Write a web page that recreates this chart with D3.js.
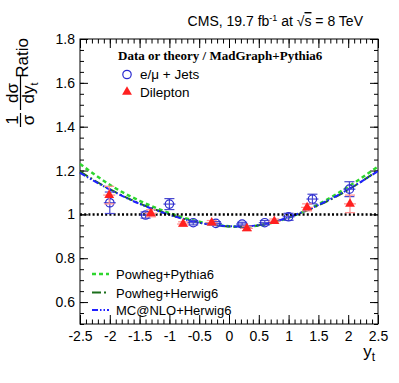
<!DOCTYPE html>
<html>
<head>
<meta charset="utf-8">
<script src="https://cdn.jsdelivr.net/npm/d3@7"></script>
<style>
body{margin:0;background:#fff;}
svg text{font-family:"Liberation Sans",Helvetica,Arial,sans-serif;}
</style>
</head>
<body>
<svg id="chart" width="399" height="383"></svg>
<script>
// e/mu + jets
var ljX = [-2.0, -1.4, -1.0, -0.6, -0.22, 0.22, 0.6, 1.0, 1.4, 2.02];
var ljY = [1.053, 0.997, 1.047, 0.962, 0.959, 0.956, 0.962, 0.989, 1.070, 1.115];
var ljErr = [0.049, 0.014, 0.025, 0.010, 0.008, 0.008, 0.010, 0.016, 0.022, 0.034];
// dilepton
var llX = [-2.01, -1.31, -0.77, -0.29, 0.30, 0.76, 1.31, 2.03];
var llY = [1.088, 1.005, 0.956, 0.962, 0.936, 0.969, 1.032, 1.048];
var llErr = [0.040, 0.016, 0.010, 0.010, 0.010, 0.010, 0.016, 0.040];
// theory / MadGraph+Pythia6
var thX = [-2.5, -2, -1.5, -1, -0.5, 0, 0.5, 1, 1.5, 2, 2.5];
var powPy = [1.230, 1.135, 1.062, 1.006, 0.966, 0.946, 0.949, 0.985, 1.046, 1.126, 1.218];
var powHw = [1.195, 1.115, 1.050, 1.000, 0.962, 0.945, 0.950, 0.986, 1.041, 1.112, 1.200];
var mcnlo = [1.190, 1.113, 1.048, 0.998, 0.962, 0.946, 0.951, 0.987, 1.043, 1.114, 1.197];
var xTicks = [-2.5, -2, -1.5, -1, -0.5, 0, 0.5, 1, 1.5, 2, 2.5];
var yTicks = [0.6, 0.8, 1, 1.2, 1.4, 1.6, 1.8];
var xTickLabels = ["-2.5", "-2", "-1.5", "-1", "-0.5", "0", "0.5", "1", "1.5", "2", "2.5"];
var yTickLabels = ["0.6", "0.8", "1", "1.2", "1.4", "1.6", "1.8"];

var svg = d3.select("#chart"),
    fLeft = 80, fRight = 378, fTop = 39, fBottom = 324;

var x = d3.scaleLinear().domain([-2.5, 2.5]).range([fLeft, fRight]);
var y = d3.scaleLinear().domain([0.5, 1.8]).range([fBottom, fTop]);

var xMinor = d3.range(-25, 26).map(function(i){ return i / 10; });
var yMinor = d3.range(10, 37).map(function(i){ return i / 20; });

function styleAxis(g){
    g.select(".domain").remove();
    g.selectAll("line").attr("stroke", "#000");
    g.selectAll("text").attr("font-size", 14).attr("fill", "#000");
}

// minor ticks
svg.append("g").attr("transform", "translate(0," + fBottom + ")")
    .call(d3.axisBottom(x).tickValues(xMinor).tickSize(-4.5).tickFormat("")).call(styleAxis);
svg.append("g").attr("transform", "translate(0," + fTop + ")")
    .call(d3.axisTop(x).tickValues(xMinor).tickSize(-4.5).tickFormat("")).call(styleAxis);
svg.append("g").attr("transform", "translate(" + fLeft + ",0)")
    .call(d3.axisLeft(y).tickValues(yMinor).tickSize(-4).tickFormat("")).call(styleAxis);
svg.append("g").attr("transform", "translate(" + fRight + ",0)")
    .call(d3.axisRight(y).tickValues(yMinor).tickSize(-4).tickFormat("")).call(styleAxis);

// major ticks
svg.append("g").attr("transform", "translate(0," + fBottom + ")")
    .call(d3.axisBottom(x).tickValues(xTicks).tickSize(-9).tickPadding(7)
        .tickFormat(function(d, i){ return xTickLabels[i]; })).call(styleAxis);
svg.append("g").attr("transform", "translate(0," + fTop + ")")
    .call(d3.axisTop(x).tickValues(xTicks).tickSize(-9).tickFormat("")).call(styleAxis);
svg.append("g").attr("transform", "translate(" + fLeft + ",0)")
    .call(d3.axisLeft(y).tickValues(yTicks).tickSize(-8).tickPadding(5)
        .tickFormat(function(d, i){ return yTickLabels[i]; })).call(styleAxis);
svg.append("g").attr("transform", "translate(" + fRight + ",0)")
    .call(d3.axisRight(y).tickValues(yTicks).tickSize(-8).tickFormat("")).call(styleAxis);

svg.append("rect").attr("x", fLeft).attr("y", fTop)
    .attr("width", fRight - fLeft).attr("height", fBottom - fTop)
    .attr("fill", "none").attr("stroke", "#000").attr("stroke-width", 1);

// theory curves
var line = d3.line()
    .x(function(d){ return x(d[0]); })
    .y(function(d){ return y(d[1]); })
    .curve(d3.curveNatural);

var curves = [
    {name: "Powheg+Pythia6", vals: powPy, color: "#2ed62e", dash: "4,3", w: 2.5},
    {name: "Powheg+Herwig6", vals: powHw, color: "#1b6e1b", dash: "9,3,2,3", w: 2},
    {name: "MC@NLO+Herwig6", vals: mcnlo, color: "#2020ff", dash: "6,2,1.5,2,1.5,2", w: 2}
];
curves.forEach(function(c){
    svg.append("path")
        .datum(thX.map(function(v, i){ return [v, c.vals[i]]; }))
        .attr("d", line)
        .attr("fill", "none")
        .attr("stroke", c.color)
        .attr("stroke-width", c.w)
        .attr("stroke-dasharray", c.dash);
});

// ratio = 1
svg.append("line")
    .attr("x1", x(-2.5)).attr("x2", x(2.5))
    .attr("y1", y(1)).attr("y2", y(1))
    .attr("stroke", "#000").attr("stroke-width", 2.5)
    .attr("stroke-dasharray", "2,2.2");

function errBars(xs, ys, es, color){
    var g = svg.append("g").attr("stroke", color).attr("stroke-width", 1.2).attr("fill", "none");
    xs.forEach(function(v, i){
        var px = x(v), py = y(ys[i]), lo = y(ys[i] - es[i]), hi = y(ys[i] + es[i]);
        g.append("line").attr("x1", px).attr("x2", px).attr("y1", lo).attr("y2", hi);
        g.append("line").attr("x1", px - 6).attr("x2", px + 6).attr("y1", py).attr("y2", py);
        g.append("line").attr("x1", px - 5).attr("x2", px + 5).attr("y1", lo).attr("y2", lo);
        g.append("line").attr("x1", px - 5).attr("x2", px + 5).attr("y1", hi).attr("y2", hi);
    });
}

errBars(ljX, ljY, ljErr, "#4848d0");
svg.append("g").selectAll("circle")
    .data(ljX)
    .enter().append("circle")
    .attr("cx", function(d){ return x(d); })
    .attr("cy", function(d, i){ return y(ljY[i]); })
    .attr("r", 4.2)
    .attr("fill", "none")
    .attr("stroke", "#2a2ad0").attr("stroke-width", 1.2);

errBars(llX, llY, llErr, "#ff8c8c");
var tri = d3.symbol().type(d3.symbolTriangle).size(42);
svg.append("g").selectAll("path")
    .data(llX)
    .enter().append("path")
    .attr("d", tri)
    .attr("transform", function(d, i){ return "translate(" + x(d) + "," + y(llY[i]) + ")"; })
    .attr("fill", "#ff2020");

// header
var head = svg.append("text").attr("x", 363).attr("y", 26)
    .attr("text-anchor", "end").attr("font-size", 14);
head.append("tspan").text("CMS, 19.7 fb");
head.append("tspan").attr("dy", -5).attr("font-size", 9).text("-1");
head.append("tspan").attr("dy", 5).text(" at ");
head.append("tspan").text("\u221A");
head.append("tspan").attr("text-decoration", "overline").text("s");
head.append("tspan").text(" = 8 TeV");

// top legend
svg.append("text").attr("x", 118).attr("y", 60)
    .style("font-family", "'Liberation Serif','Times New Roman',serif")
    .attr("font-weight", "bold").attr("font-size", 13)
    .text("Data or theory / MadGraph+Pythia6");
svg.append("circle").attr("cx", 127).attr("cy", 74.5).attr("r", 4.2)
    .attr("fill", "none").attr("stroke", "#2a2ad0").attr("stroke-width", 1.2);
svg.append("text").attr("x", 140).attr("y", 79).attr("font-size", 13.5).text("e/\u03BC + Jets");
svg.append("path").attr("d", tri).attr("transform", "translate(127,92)").attr("fill", "#ff2020");
svg.append("text").attr("x", 140).attr("y", 97).attr("font-size", 13.5).text("Dilepton");

// bottom legend
var legY = [274, 292.5, 310];
curves.forEach(function(c, i){
    svg.append("line").attr("x1", 92).attr("x2", 109)
        .attr("y1", legY[i]).attr("y2", legY[i])
        .attr("stroke", c.color).attr("stroke-width", c.w).attr("stroke-dasharray", c.dash);
    svg.append("text").attr("x", 116).attr("y", legY[i] + 5).attr("font-size", 13).text(c.name);
});

// axis titles
var xt = svg.append("text").attr("x", 375).attr("y", 357).attr("text-anchor", "end").attr("font-size", 17);
xt.append("tspan").text("y");
xt.append("tspan").attr("dy", 4).attr("font-size", 12).text("t");

var yt = svg.append("g").attr("transform", "rotate(-90)");
// 1/sigma
yt.append("text").attr("x", -120).attr("y", 18).attr("text-anchor", "middle").attr("font-size", 17).text("1");
yt.append("line").attr("x1", -127).attr("x2", -113).attr("y1", 20.5).attr("y2", 20.5).attr("stroke", "#000").attr("stroke-width", 1.2);
yt.append("text").attr("x", -120).attr("y", 34).attr("text-anchor", "middle").attr("font-size", 17).text("\u03C3");
// dsigma/dy_t
yt.append("text").attr("x", -93).attr("y", 18).attr("text-anchor", "middle").attr("font-size", 17).text("d\u03C3");
yt.append("line").attr("x1", -110).attr("x2", -76).attr("y1", 20.5).attr("y2", 20.5).attr("stroke", "#000").attr("stroke-width", 1.2);
var den = yt.append("text").attr("x", -93).attr("y", 34).attr("text-anchor", "middle").attr("font-size", 17);
den.append("tspan").text("dy");
den.append("tspan").attr("dy", 4).attr("font-size", 11).text("t");
yt.append("text").attr("x", -38).attr("y", 28).attr("text-anchor", "end").attr("font-size", 17).text("Ratio");
</script>
</body>
</html>
